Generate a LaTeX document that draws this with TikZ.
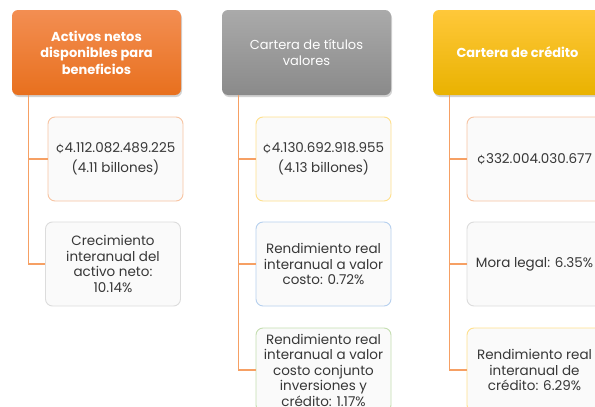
\documentclass[tikz,border=0pt]{standalone}
\usepackage{fontspec}
\setmainfont{Poppins}
\usetikzlibrary{shadows}
\definecolor{orA}{RGB}{243,142,82}
\definecolor{orB}{RGB}{232,112,30}
\definecolor{grA}{RGB}{170,170,170}
\definecolor{grB}{RGB}{138,138,138}
\definecolor{yeA}{RGB}{255,200,58}
\definecolor{yeB}{RGB}{233,178,0}
\definecolor{linec}{RGB}{246,160,100}
\definecolor{boxfill}{RGB}{250,250,250}
\definecolor{txt}{RGB}{55,55,55}
\definecolor{bdOr}{RGB}{248,196,162}
\definecolor{bdGr}{RGB}{220,220,220}
\definecolor{bdYe}{RGB}{255,224,140}
\definecolor{bdBl}{RGB}{182,208,238}
\definecolor{bdGn}{RGB}{196,222,176}
\tikzset{
  header/.style={rounded corners=6pt, minimum width=169pt, minimum height=85pt,
    align=center, text=white, font=\fontsize{13}{16.5}\selectfont,
    drop shadow={opacity=0.35, shadow xshift=1pt, shadow yshift=-2pt}},
  leaf/.style={rounded corners=7pt, fill=boxfill, line width=0.9pt,
    minimum width=135pt, minimum height=84pt, align=center, text=txt,
    font=\fontsize{13.5}{15.5}\selectfont},
  conn/.style={draw=linec, line width=1.3pt}
}
\begin{document}
\begin{tikzpicture}[x=1pt,y=-1pt]
\useasboundingbox (0,0) rectangle (595,407);
\clip (0,0) rectangle (595,407);
\fill[white] (0,0) rectangle (595,407);
% headers
\node[header, top color=orA, bottom color=orB] (h1) at (96.5,52.5)
  {\bfseries Activos netos\\\bfseries disponibles para\\\bfseries beneficios};
\node[header, top color=grA, bottom color=grB] (h2) at (306.5,52.5)
  {Cartera de títulos\\valores};
\node[header, top color=yeA, bottom color=yeB] (h3) at (517.5,52.5)
  {\bfseries Cartera de crédito};
% column 1
\node[leaf, draw=bdOr] (a1) at (115.5,159) {¢4.112.082.489.225\\[5pt](4.11 billones)};
\node[leaf, draw=bdGr] (a2) at (113,264) {Crecimiento\\interanual del\\activo neto:\\10.14\%};
% column 2
\node[leaf, draw=bdYe] (b1) at (323.5,159) {¢4.130.692.918.955\\[5pt](4.13 billones)};
\node[leaf, draw=bdBl] (b2) at (323.5,264) {Rendimiento real\\interanual a valor\\costo: 0.72\%};
\node[leaf, draw=bdGn] (b3) at (323.5,370) {Rendimiento real\\interanual a valor\\costo conjunto\\inversiones y\\crédito: 1.17\%};
% column 3
\node[leaf, draw=bdOr] (c1) at (534.5,159) {¢332.004.030.677};
\node[leaf, draw=bdGr] (c2) at (534.5,264) {Mora legal: 6.35\%};
\node[leaf, draw=bdYe] (c3) at (534.5,370) {Rendimiento real\\interanual de\\crédito: 6.29\%};
% connectors
\draw[conn] ([xshift=17pt]h1.south west) |- (a1.west);
\draw[conn] ([xshift=17pt]h1.south west) |- (a2.west);
\draw[conn] ([xshift=17pt]h2.south west) |- (b1.west);
\draw[conn] ([xshift=17pt]h2.south west) |- (b2.west);
\draw[conn] ([xshift=17pt]h2.south west) |- (b3.west);
\draw[conn] ([xshift=17pt]h3.south west) |- (c1.west);
\draw[conn] ([xshift=17pt]h3.south west) |- (c2.west);
\draw[conn] ([xshift=17pt]h3.south west) |- (c3.west);
\end{tikzpicture}
\end{document}
